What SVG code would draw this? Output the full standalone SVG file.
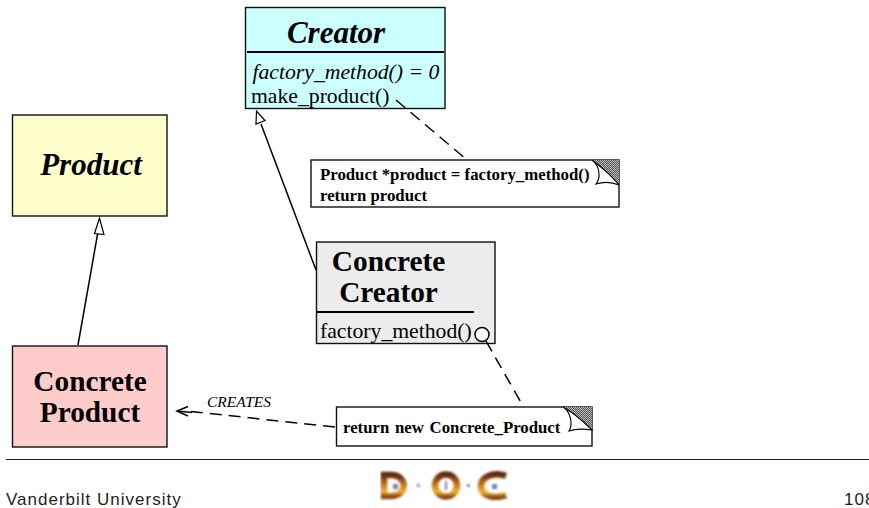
<svg xmlns="http://www.w3.org/2000/svg" width="869" height="508" viewBox="0 0 869 508">
<style>
text{font-family:"Liberation Serif","Times New Roman",serif;fill:#000}
.box{stroke:#111;stroke-width:1.4}
.t{font-weight:bold;font-size:29.300px;text-anchor:middle}
.ti{font-weight:bold;font-style:italic;font-size:31px;text-anchor:middle}
.m{font-size:21.700px}
.n{font-weight:bold;font-size:16.800px}
.sep{stroke:#000;stroke-width:2;fill:none}
.line{stroke:#000;stroke-width:1.500;fill:none}
.dash{stroke:#000;stroke-width:1.500;fill:none;stroke-dasharray:12 7}
.head{fill:#fff;stroke:#000;stroke-width:1.200}
.foot{font-family:"Liberation Sans",sans-serif;font-size:17px;fill:#222;letter-spacing:1px}
.fold{fill:#fff;stroke:#000;stroke-width:1.100}
.logo{fill:none;stroke-width:6.500;filter:url(#b)}
</style>
<defs>
<pattern id="h" width="2" height="2" patternUnits="userSpaceOnUse"><rect width="2" height="2" fill="#555"/><rect width="1" height="1" fill="#bbb"/><rect x="1" y="1" width="1" height="1" fill="#bbb"/></pattern>
<filter id="b" x="-20%" y="-20%" width="140%" height="140%"><feGaussianBlur stdDeviation="0.900"/></filter>
<linearGradient id="g" x1="0" y1="0" x2="0" y2="1"><stop offset="0" stop-color="#5a2a10"/><stop offset=".45" stop-color="#c8741a"/><stop offset=".8" stop-color="#f0b030"/><stop offset="1" stop-color="#8a4a14"/></linearGradient>
</defs>

<g id="creator">
<rect class="box" x="245.500" y="7.500" width="199.500" height="101" fill="#ccffff"/>
<path class="sep" d="M247 52 H444"/>
<text class="ti" x="336" y="42.500">Creator</text>
<text class="m" x="252.500" y="79" font-style="italic">factory_method() = 0</text>
<text class="m" x="251" y="102.500">make_product()</text>
</g>

<g id="product">
<rect class="box" x="12.500" y="115" width="154.500" height="101" fill="#ffffcc"/>
<text class="ti" x="91" y="175">Product</text>
</g>

<g id="concrete-product">
<rect class="box" x="12.500" y="346" width="154.500" height="101" fill="#ffcccc"/>
<text class="t" x="90" y="390.500">Concrete</text>
<text class="t" x="90" y="422">Product</text>
</g>

<g id="concrete-creator">
<rect class="box" x="316.500" y="242" width="178.500" height="101.500" fill="#ececec"/>
<path class="sep" d="M317 312 H474"/>
<text class="t" x="388.500" y="270.500">Concrete</text>
<text class="t" x="388.500" y="302">Creator</text>
<text class="m" x="320" y="338">factory_method()</text>
<circle cx="482" cy="334.500" r="7" fill="#fff" stroke="#000" stroke-width="1.500"/>
</g>

<g id="note-make-product">
<rect class="box" x="311" y="160" width="308" height="47" fill="#fff"/>
<path d="M592 160 H619 V185 Z" fill="url(#h)"/>
<path class="fold" d="M592 160 C600 166 601 178 596 184 C606 181 612 182 619 185 C612 176 600 166 592 160 Z"/>
<text class="n" x="320" y="180">Product *product = factory_method()</text>
<text class="n" x="320" y="201">return product</text>
</g>

<g id="note-factory-method">
<rect class="box" x="336.500" y="407" width="255.500" height="39" fill="#fff"/>
<path d="M563 407 H592 V430 Z" fill="url(#h)"/>
<path class="fold" d="M563 407 C571 412 573 425 569 431 C577 428 585 429 592 430 C585 423 572 412 563 407 Z"/>
<text class="n" x="343" y="433" word-spacing="1.500">return new Concrete_Product</text>
</g>

<g id="connectors">
<path class="line" d="M78 345 L99 226"/>
<path class="head" d="M99.500 218 L94.500 233.500 L104 234.500 Z"/>
<path class="line" d="M316 270 L261 124"/>
<path class="head" d="M256.500 111 L256 124 L265 120.500 Z"/>
<path class="dash" d="M396 100 L466 159"/>
<path class="dash" d="M486 341 L523 406"/>
<path class="dash" d="M335 427 L186 411"/>
<path class="line" d="M188 406.500 L177 411 L188 416"/>
<path class="line" d="M177 411 L192 412.500"/>
</g>

<g id="creates-label">
<text x="207" y="407" font-size="15.500" font-style="italic" fill="#222">CREATES</text>
</g>

<g id="footer">
<path d="M6 459.500 H869" stroke="#222" stroke-width="1"/>
<text class="foot" x="6" y="505">Vanderbilt University</text>
<text class="foot" x="844" y="505">108</text>
</g>

<g id="logo">
<path class="logo" stroke="url(#g)" d="M384 475 H391 C408 475 408 496 391 496 H384 Z"/>
<circle class="logo" stroke="url(#g)" cx="446" cy="485.500" r="11"/>
<path class="logo" stroke="url(#g)" d="M506 476 C492 471 481 478 481 486 C481 495 493 500 506 495"/>
<g fill="#7a7fb0" filter="url(#b)">
<rect x="393" y="484" width="5" height="5"/>
<rect x="417" y="484" width="2.500" height="3"/>
<rect x="445" y="481" width="2" height="9"/>
<rect x="467" y="484" width="3" height="3"/>
<rect x="492" y="484" width="5" height="5"/>
</g>
</g>
</svg>
